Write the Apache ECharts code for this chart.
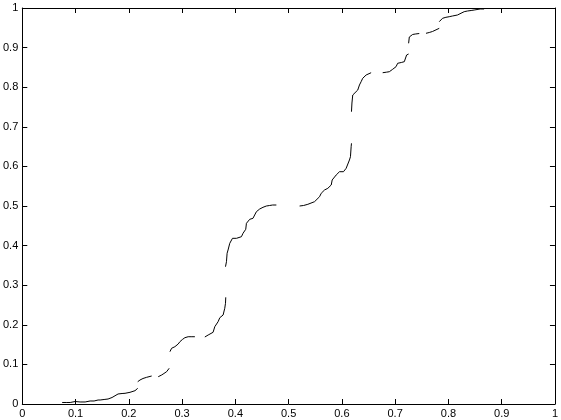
<!DOCTYPE html>
<html>
<head>
<meta charset="utf-8">
<script src="https://cdn.jsdelivr.net/npm/echarts@6/dist/echarts.min.js"></script>
<style>html,body{margin:0;padding:0;background:#fff}#c{width:561px;height:420px}</style>
</head>
<body>
<div id="c"></div>
<script>
// Curve samples; null marks a gap in the drawn curve
var xs = [0.0749,0.0824,0.0899,0.0993,0.1086,0.1180,0.1273,0.1348,0.1423,0.1461,0.1536,0.1610,0.1685,0.1798,0.1873,0.1929,0.2022,0.2116,0.2167,null,
  0.2167,0.2210,0.2266,0.2335,0.2341,0.2429,null,
  0.2552,0.2616,0.2659,0.2710,0.2758,null,
  0.2772,0.2803,0.2865,0.2927,0.2959,0.3006,0.3052,0.3114,0.3184,0.3240,null,
  0.3427,0.3489,0.3521,0.3582,0.3614,0.3676,0.3708,0.3770,0.3801,0.3815,0.3820,null,
  0.3815,0.3833,0.3845,0.3863,0.3895,0.3946,0.4021,0.4114,0.4144,0.4195,0.4208,0.4270,0.4331,0.4363,0.4395,0.4457,0.4519,0.4582,0.4644,0.4700,0.4770,null,
  0.5206,0.5281,0.5361,0.5393,0.5487,0.5519,0.5581,0.5612,0.5674,0.5736,0.5800,0.5818,0.5893,0.5923,0.5955,0.6030,0.6080,0.6092,0.6142,0.6161,0.6174,0.6180,null,
  0.6180,0.6189,0.6204,0.6236,0.6298,0.6330,0.6361,0.6391,0.6455,0.6485,0.6549,null,
  0.6766,0.6835,0.6891,0.6953,0.7017,0.7047,0.7116,0.7172,0.7215,0.7253,null,
  0.7253,0.7266,0.7328,0.7378,0.7453,null,
  0.7579,0.7640,0.7702,0.7734,0.7828,null,
  0.7828,0.7890,0.7953,0.8015,0.8077,0.8170,0.8202,0.8296,0.8358,0.8427,0.8483,0.8515,0.8596,0.8670];
var ys = [0.0038,0.0038,0.0038,0.0063,0.0051,0.0051,0.0076,0.0076,0.0101,0.0101,0.0114,0.0126,0.0164,0.0253,0.0265,0.0270,0.0295,0.0336,0.0396,null,
  0.0563,0.0606,0.0644,0.0674,0.0707,0.0707,null,
  0.0689,0.0732,0.0770,0.0816,0.0902,null,
  0.1321,0.1407,0.1447,0.1515,0.1573,0.1629,0.1674,0.1699,0.1699,0.1699,null,
  0.1692,0.1742,0.1742,0.1811,0.1952,0.2078,0.2179,0.2247,0.2417,0.2543,0.2694,null,
  0.3467,0.3593,0.3806,0.3889,0.4058,0.4184,0.4184,0.4225,0.4311,0.4412,0.4563,0.4664,0.4689,0.4773,0.4856,0.4924,0.4967,0.5000,0.5013,0.5025,0.5025,null,
  0.5000,0.5013,0.5043,0.5068,0.5109,0.5152,0.5235,0.5321,0.5404,0.5447,0.5530,0.5657,0.5783,0.5826,0.5866,0.5866,0.5952,0.5992,0.6162,0.6245,0.6497,0.6583,null,
  0.7381,0.7601,0.7803,0.7846,0.7929,0.8056,0.8139,0.8225,0.8308,0.8333,0.8366,null,
  0.8366,0.8379,0.8391,0.8452,0.8518,0.8604,0.8624,0.8644,0.8813,0.8838,null,
  0.9109,0.9268,0.9331,0.9343,0.9356,null,
  0.9361,0.9381,0.9407,0.9444,0.9487,null,
  0.9654,0.9740,0.9765,0.9780,0.9798,0.9823,0.9866,0.9907,0.9924,0.9937,0.9949,0.9967,0.9975,0.9975];
var xTickLabels = ['0','0.1','0.2','0.3','0.4','0.5','0.6','0.7','0.8','0.9','1'];
var yTickLabels = ['0','0.1','0.2','0.3','0.4','0.5','0.6','0.7','0.8','0.9','1'];

var data = xs.map(function (x, i) {
  return (x === null || ys[i] === null) ? ['-', '-'] : [x, ys[i]];
});

var black = '#000';
function axisBase(pos, showLabel, labels) {
  return {
    type: 'value', min: 0, max: 1, interval: 0.1, position: pos,
    axisLine: { show: true, onZero: false, lineStyle: { color: black, width: 1 } },
    axisTick: { show: true, inside: true, length: 5, lineStyle: { color: black, width: 1 } },
    axisLabel: {
      show: showLabel, color: black, fontSize: 11, fontFamily: 'Liberation Sans, Arial, sans-serif',
      margin: 4,
      formatter: function (v) { return labels[Math.round(v * 10)]; }
    },
    splitLine: { show: false }
  };
}

var chart = echarts.init(document.getElementById('c'), null, { renderer: 'canvas' });
chart.setOption({
  animation: false,
  backgroundColor: '#fff',
  grid: { left: 22, right: 5, top: 8, bottom: 16, containLabel: false },
  xAxis: [axisBase('bottom', true, xTickLabels), axisBase('top', false, xTickLabels)],
  yAxis: [axisBase('left', true, yTickLabels), axisBase('right', false, yTickLabels)],
  series: [{
    type: 'line', xAxisIndex: 0, yAxisIndex: 0,
    data: data, showSymbol: false, connectNulls: false,
    lineStyle: { color: black, width: 1 }
  }]
});
</script>
</body>
</html>
